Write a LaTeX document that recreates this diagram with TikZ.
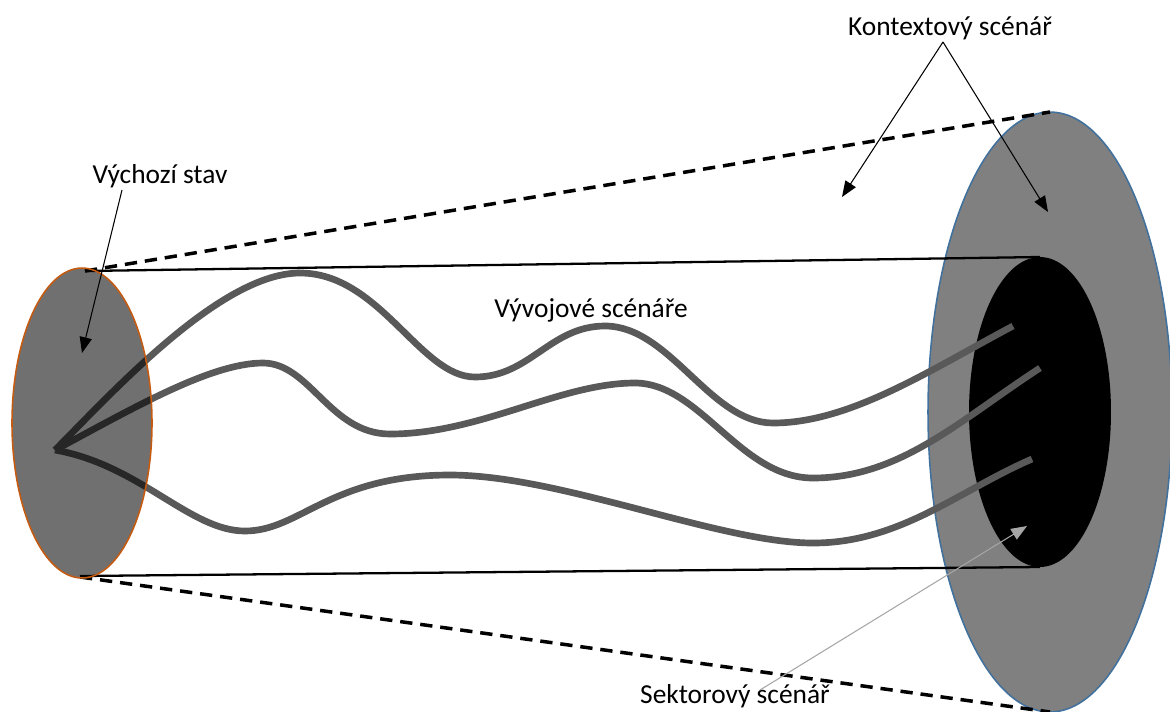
\documentclass[tikz,border=0pt]{standalone}
\usepackage{fontspec}
\setmainfont{Carlito}
\usetikzlibrary{arrows.meta}
\definecolor{col1}{RGB}{197,90,17}
\definecolor{col2}{RGB}{65,113,156}
\definecolor{col3}{RGB}{128,128,128}
\definecolor{col4}{RGB}{89,89,89}
\definecolor{col5}{RGB}{166,166,166}
\tikzstyle{lbl}=[font=\fontsize{15.6}{18}\selectfont, anchor=base, inner sep=0pt]
\tikzstyle{path}=[draw=col4, line width=3.8pt, line cap=butt]
\tikzstyle{tube}=[draw=black, line width=1.3pt]
\tikzstyle{cone}=[draw=black, line width=2pt, dash pattern=on 7pt off 4.5pt]
\tikzstyle{pointer}=[-{Triangle[length=9pt,width=7pt]}, line width=0.6pt]
\begin{document}
\begin{tikzpicture}[x=0.02cm,y=-0.02cm]
\useasboundingbox (0,0) rectangle (1170,711);
\fill[col3, draw=col2, line width=0.9pt] (1050,412) ellipse [x radius=2.44cm, y radius=6cm];
\fill[black] (1040,412) ellipse [x radius=1.42cm, y radius=3.1cm];
\draw[cone] (85,271) -- (1050,112);
\draw[cone] (80,577) -- (1050,712);
\draw[tube] (85,271) -- (1040,257);
\draw[tube] (80,576) -- (1040,567);
\draw[path] (55,450) .. controls (110,395) and (220,273) .. (300,273) .. controls (380,273) and (420,377) .. (475,377) .. controls (530,377) and (550,326) .. (605,326) .. controls (670,326) and (710,423) .. (773,423) .. controls (850,423) and (930,370) .. (1013,326);
\draw[path] (55,450) .. controls (130,410) and (210,363) .. (263,363) .. controls (310,363) and (330,434) .. (390,434) .. controls (480,434) and (560,383) .. (635,383) .. controls (700,383) and (740,478) .. (813,478) .. controls (900,478) and (960,420) .. (1040,368);
\draw[path] (55,450) .. controls (140,465) and (190,531) .. (245,531) .. controls (300,531) and (330,475) .. (450,475) .. controls (560,475) and (720,543) .. (813,543) .. controls (900,543) and (960,490) .. (1032,459);
\filldraw[fill=black, fill opacity=0.56, draw=col1, line width=0.9pt] (82,423) ellipse [x radius=1.4cm, y radius=3.1cm];
\node[lbl] (vs) at (160,183) {Výchozí stav};
\node[lbl] (ks) at (950,35) {Kontextový scénář};
\node[lbl] (vys) at (591,317) {Vývojové scénáře};
\node[lbl] (ss) at (735,703) {Sektorový scénář};
\coordinate (a) at (122,190);
\coordinate (a1) at (82,353);
\coordinate (b) at (943,42);
\coordinate (b1) at (842,197);
\coordinate (b2) at (1048,212);
\coordinate (c) at (760,690);
\coordinate (c1) at (1027,526);
\draw[pointer] (a) -- (a1);
\draw[pointer] (b) -- (b1);
\draw[pointer] (b) -- (b2);
\draw[pointer, col5] (c) -- (c1);
\end{tikzpicture}
\end{document}
